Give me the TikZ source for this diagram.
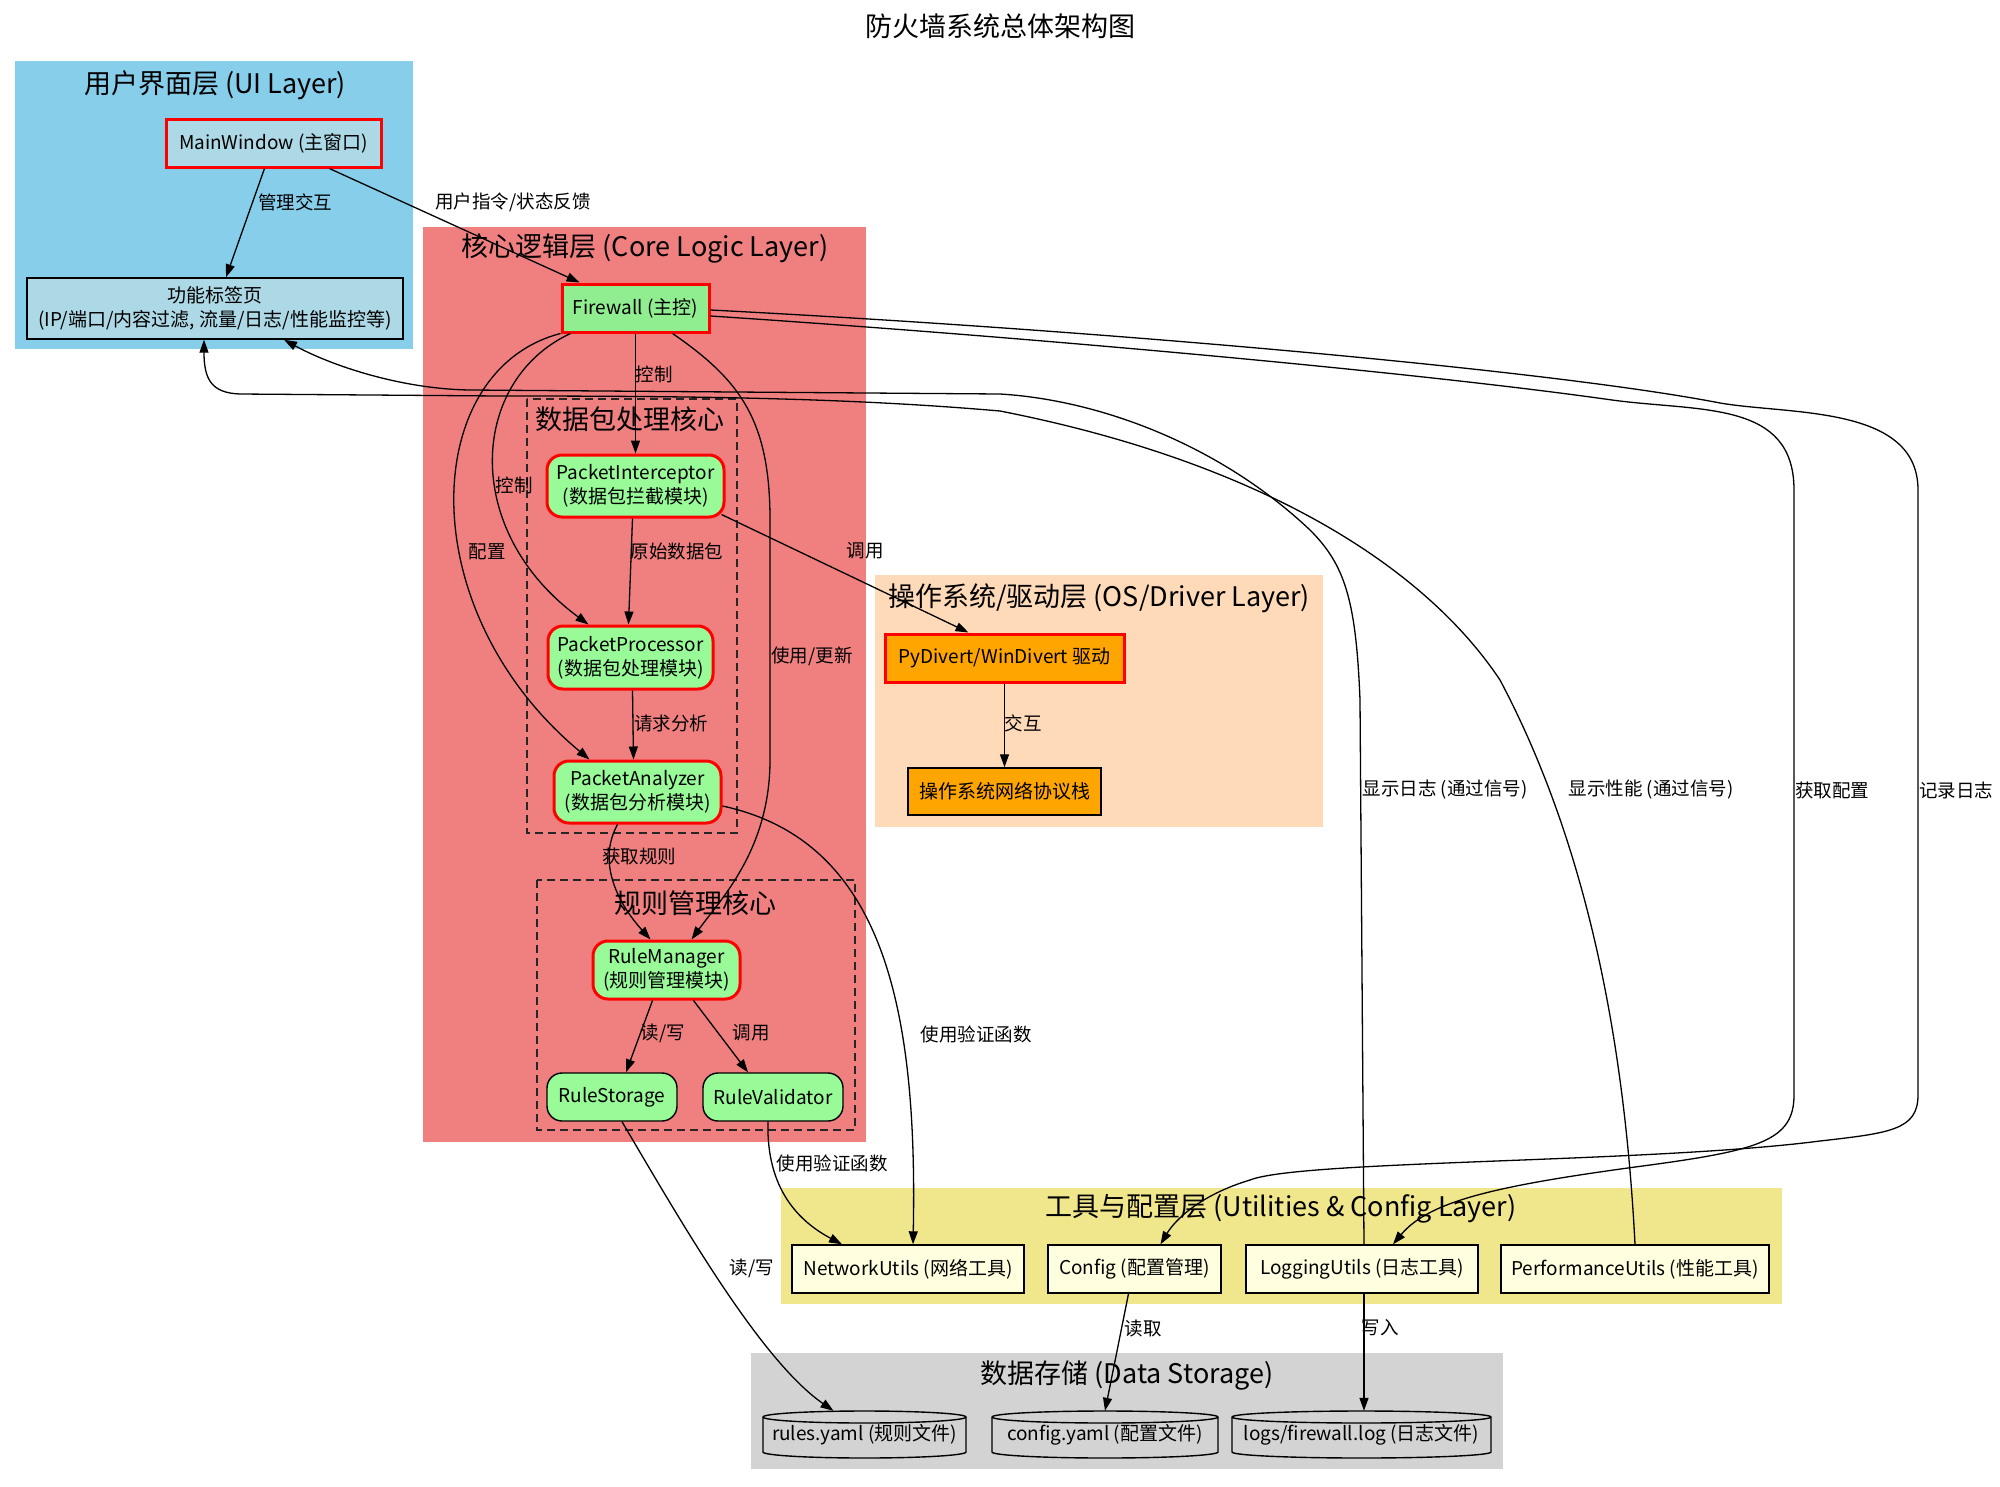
\documentclass[tikz,border=0pt]{standalone}
\usepackage{fontspec}
\setmainfont{Noto Sans CJK SC}
\usetikzlibrary{arrows.meta,calc}

\definecolor{uiblue}{HTML}{87CEEB}
\definecolor{boxblue}{HTML}{ADD8E6}
\definecolor{corered}{HTML}{F08080}
\definecolor{fwgreen}{HTML}{90EE90}
\definecolor{modgreen}{HTML}{98FB98}
\definecolor{ospeach}{HTML}{FFDAB9}
\definecolor{drvorange}{HTML}{FFA500}
\definecolor{utilkhaki}{HTML}{F0E68C}
\definecolor{utilyellow}{HTML}{FFFFE0}
\definecolor{storegrey}{HTML}{D3D3D3}

\tikzset{
  nodefont/.style={font=\fontsize{19}{24}\selectfont},
  base/.style={nodefont, inner sep=2pt, align=center, text=black},
  keybox/.style={base, draw=red, line width=3pt},
  plainbox/.style={base, draw=black, line width=1.4pt},
  module/.style={keybox, fill=modgreen, rounded corners=15pt},
  submodule/.style={plainbox, fill=modgreen, rounded corners=15pt},
  utilbox/.style={plainbox, fill=utilyellow},
  tankbox/.style={base},
  tank/.style={fill=storegrey, draw=black, line width=1.4pt},
  clustertitle/.style={font=\fontsize{27}{32}\selectfont, inner sep=0pt},
  edgelabel/.style={font=\fontsize{18.5}{22}\selectfont, inner sep=0pt, text=black},
  link/.style={draw=black, line width=1.3pt, -{Triangle[length=13pt,width=9pt]}},
  subcluster/.style={draw=black!85, line width=1.5pt, dash pattern=on 8pt off 5pt},
}

% storage drum: left, top, right, bottom
\newcommand\tankshape[4]{%
  \filldraw[tank] (#1,{#2+6}) -- (#1,{#4-6})
    arc[start angle=180,end angle=0,x radius={(#3-#1)/2},y radius=6]
    -- (#3,{#2+6})
    arc[start angle=0,end angle=-180,x radius={(#3-#1)/2},y radius=6] -- cycle;
  \draw[tank,fill=none] (#1,{#2+6})
    arc[start angle=180,end angle=0,x radius={(#3-#1)/2},y radius=6];
}

\begin{document}
\begin{tikzpicture}[x=1pt,y=-1pt]
\useasboundingbox (0,0) rectangle (2000,1486);
\fill[white] (0,0) rectangle (2000,1486);

% ---------- title ----------
\node[font=\fontsize{27}{32}\selectfont, inner sep=0pt] (maintitle) at (1000,26) {防火墙系统总体架构图};

% ---------- layers ----------
\fill[uiblue] (15,61) rectangle (413,349);
\fill[corered] (423,227) rectangle (866,1142);
\fill[ospeach] (875,575) rectangle (1323,827);
\fill[utilkhaki] (781,1188) rectangle (1782,1304);
\fill[storegrey] (751,1353) rectangle (1503,1469);
\draw[subcluster] (527,399) rectangle (737,833);
\draw[subcluster] (537,880) rectangle (855,1130);

\node[clustertitle] (uititle) at (215,85) {用户界面层 (UI Layer)};
\node[clustertitle] (coretitle) at (645,248) {核心逻辑层 (Core Logic Layer)};
\node[clustertitle] (pkttitle) at (630,419) {数据包处理核心};
\node[clustertitle] (ruletitle) at (695,903) {规则管理核心};
\node[clustertitle] (ostitle) at (1099,598) {操作系统/驱动层 (OS/Driver Layer)};
\node[clustertitle] (utiltitle) at (1281,1209) {工具与配置层 (Utilities \& Config Layer)};
\node[clustertitle] (datatitle) at (1127,1375) {数据存储 (Data Storage)};

% ---------- nodes ----------
\node[keybox, fill=boxblue, minimum width=215, minimum height=48] (mainwin) at (273.5,143) {MainWindow (主窗口)};
\node[plainbox, fill=boxblue, minimum width=376, minimum height=61] (tabs) at (215,308.5) {功能标签页\\(IP/端口/内容过滤, 流量/日志/性能监控等)};

\node[keybox, fill=fwgreen, minimum width=147, minimum height=48] (firewall) at (635.5,308) {Firewall (主控)};
\node[module, minimum width=177, minimum height=62] (pint) at (635.5,486) {PacketInterceptor\\(数据包拦截模块)};
\node[module, minimum width=165, minimum height=63] (pproc) at (630.5,657.5) {PacketProcessor\\(数据包处理模块)};
\node[module, minimum width=167, minimum height=62] (pana) at (637.5,792) {PacketAnalyzer\\(数据包分析模块)};
\node[module, minimum width=147, minimum height=58] (rmgr) at (666.5,970) {RuleManager\\(规则管理模块)};
\node[submodule, minimum width=130, minimum height=48] (rstore) at (612,1097) {RuleStorage};
\node[submodule, minimum width=140, minimum height=48] (rvalid) at (773,1097) {RuleValidator};

\node[keybox, fill=drvorange, minimum width=239, minimum height=48] (pydiv) at (1004.5,658) {PyDivert/WinDivert 驱动};
\node[plainbox, fill=drvorange, minimum width=193, minimum height=47] (osstack) at (1004.5,791.5) {操作系统网络协议栈};

\node[utilbox, minimum width=232, minimum height=48] (netu) at (908,1269) {NetworkUtils (网络工具)};
\node[utilbox, minimum width=173, minimum height=48] (cfg) at (1134.5,1269) {Config (配置管理)};
\node[utilbox, minimum width=232, minimum height=48] (logu) at (1362,1269) {LoggingUtils (日志工具)};
\node[utilbox, minimum width=268, minimum height=48] (perfu) at (1635,1269) {PerformanceUtils (性能工具)};

\tankshape{763}{1411}{966}{1458}
\tankshape{992}{1411}{1218}{1458}
\tankshape{1232}{1411}{1491}{1458}
\node[tankbox, minimum width=203, minimum height=47] (rulesy) at (864.5,1434.5) {rules.yaml (规则文件)};
\node[tankbox, minimum width=226, minimum height=47] (cfgy) at (1105,1434.5) {config.yaml (配置文件)};
\node[tankbox, minimum width=259, minimum height=47] (logsf) at (1361.5,1434.5) {logs/firewall.log (日志文件)};

% ---------- connectors ----------
\draw[link] (mainwin) -- (tabs);
\draw[link] (mainwin) -- (firewall);

\draw[link] (firewall) -- (pint);
\draw[link] ($(firewall.south)+(-65,0)$) .. controls (470,380) and (460,530) .. ($(pproc.north)+(-42,0)$);
\draw[link] (firewall.south west) .. controls (420,370) and (410,610) .. ($(pana.north)+(-48,0)$);
\draw[link] ($(firewall.south)+(37,0)$) .. controls (740,380) and (770,420) .. (770,520)
  -- (770,760) .. controls (770,850) and (720,900) .. ($(rmgr.north)+(25,0)$);

\draw[link] ($(pint.south)+(-3,0)$) -- ($(pproc.north)+(-2,0)$);
\draw[link] ($(pint.south east)+(-4,-4)$) -- ($(pydiv.north)+(-36,0)$);
\draw[link] ($(pproc.south)+(2,0)$) -- ($(pana.north)+(-4,0)$);
\draw[link] ($(pana.south)+(-20,0)$) .. controls (598,860) and (615,900) .. ($(rmgr.north)+(-16,0)$);
\draw[link] ($(pana.east)+(0,14)$) .. controls (880,840) and (918,1000) .. ($(netu.north)+(5,0)$);

\draw[link] ($(rmgr.south)+(-14,0)$) -- ($(rstore.north)+(14,0)$);
\draw[link] ($(rmgr.south)+(27,0)$) -- ($(rvalid.north)+(-25,0)$);
\draw[link] ($(rvalid.south)+(-5,0)$) .. controls (766,1190) and (800,1222) .. ($(netu.north)+(-66,0)$);
\draw[link] ($(rstore.south)+(10,0)$) .. controls (680,1220) and (760,1360) .. ($(rulesy.north)+(-31,0)$);

\draw[link] (pydiv) -- (osstack);
\draw[link] ($(cfg.south)+(-6,0)$) -- (cfgy.north);
\draw[link] ($(logu.south)+(2,0)$) -- ($(logsf.north)+(2.5,0)$);

% long routes on the right
\draw[link] ($(firewall.east)+(0,2)$) .. controls (1100,330) and (1550,370) .. (1720,403)
  .. controls (1790,415) and (1918,405) .. (1918,490) -- (1918,1095)
  .. controls (1918,1130) and (1890,1133) .. (1820,1141)
  .. controls (1650,1163) and (1300,1160) .. (1250,1180)
  .. controls (1200,1195) and (1175,1220) .. ($(cfg.north)+(26,0)$);
\draw[link] ($(firewall.east)+(0,8)$) .. controls (1000,335) and (1400,370) .. (1612,400)
  .. controls (1700,412) and (1794,400) .. (1794,490) -- (1794,1095)
  .. controls (1794,1140) and (1760,1150) .. (1650,1165)
  .. controls (1500,1185) and (1430,1200) .. ($(logu.north)+(31,0)$);

% status feedback back to the tab page
\draw[link] ($(logu.north)+(2,0)$) -- (1360,700) .. controls (1356,600) and (1345,565) .. (1310,530)
  .. controls (1220,445) and (1100,400) .. (1000,394) -- (470,390)
  .. controls (400,389) and (330,365) .. ($(tabs.south)+(69,0)$);
\draw[link] (perfu.north) .. controls (1625,1050) and (1590,850) .. (1500,680)
  .. controls (1420,560) and (1250,460) .. (1000,411)
  .. controls (850,398) and (700,396) .. (500,396) -- (240,394)
  .. controls (212,393) and (204,380) .. ($(tabs.south)+(-11,0)$);

% ---------- connector labels ----------
\node[edgelabel] (l1) at (295,202) {管理交互};
\node[edgelabel] (l2) at (513,202) {用户指令/状态反馈};
\node[edgelabel] (l3) at (654,374) {控制};
\node[edgelabel] (l4) at (514,485) {控制};
\node[edgelabel] (l5) at (487,552) {配置};
\node[edgelabel] (l6) at (677,551) {原始数据包};
\node[edgelabel] (l7) at (865,551) {调用};
\node[edgelabel] (l8) at (812,656) {使用/更新};
\node[edgelabel] (l9) at (671,723) {请求分析};
\node[edgelabel] (l10) at (1023,723) {交互};
\node[edgelabel] (l11) at (639,856) {获取规则};
\node[edgelabel] (l12) at (663,1033) {读/写};
\node[edgelabel] (l13) at (751,1033) {调用};
\node[edgelabel] (l14) at (976,1034) {使用验证函数};
\node[edgelabel] (l15) at (832,1163) {使用验证函数};
\node[edgelabel] (l16) at (752,1268) {读/写};
\node[edgelabel] (l17) at (1143,1328) {读取};
\node[edgelabel] (l18) at (1380,1328) {写入};
\node[edgelabel] (l19) at (1445,790) {显示日志 (通过信号)};
\node[edgelabel] (l20) at (1651,790) {显示性能 (通过信号)};
\node[edgelabel] (l21) at (1832,790) {获取配置};
\node[edgelabel] (l22) at (1956,790) {记录日志};
\end{tikzpicture}
\end{document}
